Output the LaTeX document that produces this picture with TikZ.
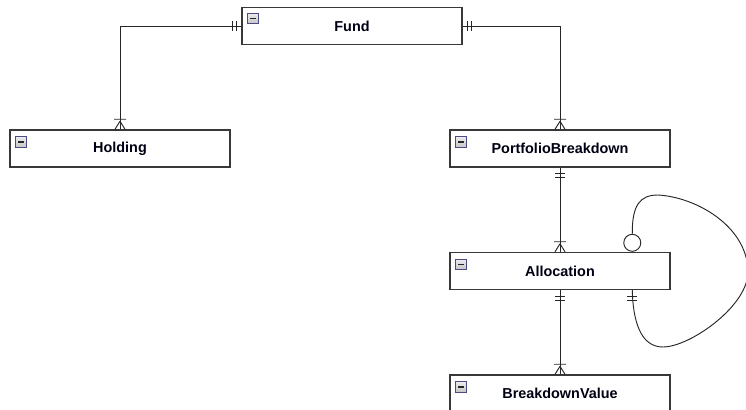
\documentclass[tikz,border=0pt]{standalone}
\usepackage{fontspec}
\setmainfont{Liberation Sans}
\usetikzlibrary{calc}
\begin{document}
\begin{tikzpicture}[x=0.75pt,y=-0.75pt,
  entity/.style={draw=black!78, line width=1.1pt, fill=white, minimum width=165pt,
    minimum height=27.75pt, inner sep=0pt, font=\fontsize{10.8}{13}\selectfont\bfseries, text=black!92!blue},
  conn/.style={draw=black!85, line width=0.7pt},
  icon/.style={draw=black!45!blue!40!gray, line width=0.6pt, top color=gray!15, bottom color=gray!45,
    minimum size=7.8pt, inner sep=0pt, anchor=north west,
    path picture={\draw[line width=1pt, black!85] ([xshift=1.9pt]path picture bounding box.west) -- ([xshift=-1.9pt]path picture bounding box.east);}},
  pics/crowfoot/.style={code={\draw[conn] (0,-8) -- (-5,0) (0,-8) -- (5,0) (-6,-10) -- (6,-10);}},
  pics/barsdown/.style={code={\draw[conn] (-5,6) -- (5,6) (-5,10) -- (5,10);}},
  pics/barsleft/.style={code={\draw[conn] (-5,-5) -- (-5,5) (-9,-5) -- (-9,5);}},
  pics/barsright/.style={code={\draw[conn] (4.5,-5) -- (4.5,5) (8.5,-5) -- (8.5,5);}}
]
\useasboundingbox (0,0) rectangle (746,410);

% entities
\node[entity] (fund) at (352,26) {Fund};
\node[entity] (holding) at (120,148.5) {Holding};
\node[entity] (pb) at (560,148.5) {PortfolioBreakdown};
\node[entity] (alloc) at (560,271) {Allocation};
\node[entity] (bv) at (560,393.5) {BreakdownValue};

% collapse icons
\node[icon] (fundicon) at ($(fund.north west)+(6,6)$) {};
\node[icon] (holdingicon) at ($(holding.north west)+(6,7)$) {};
\node[icon] (pbicon) at ($(pb.north west)+(6,7)$) {};
\node[icon] (allocicon) at ($(alloc.north west)+(6,7)$) {};
\node[icon] (bvicon) at ($(bv.north west)+(6,7)$) {};

% connectors
\draw[conn] (fund.west) -| (holding.north);
\draw[conn] (fund.east) -| (pb.north);
\draw[conn] (pb.south) -- (alloc.north);
\draw[conn] (alloc.south) -- (bv.north);

\pic at (fund.west) {barsleft};
\pic at (fund.east) {barsright};
\pic at (holding.north) {crowfoot};
\pic at (pb.north) {crowfoot};
\pic at (pb.south) {barsdown};
\pic at (alloc.north) {crowfoot};
\pic at (alloc.south) {barsdown};
\pic at (bv.north) {crowfoot};

% self relation
\coordinate (la) at ($(alloc.north west)+(183,0)$);
\coordinate (lb) at ($(alloc.south west)+(183,0)$);
\node[circle, draw=black!85, line width=0.7pt, fill=white, minimum size=12.75pt, inner sep=0pt, anchor=south] (opt) at (la) {};
\draw[conn] (opt.north) .. controls (632,205) and (640,195) .. (658,195)
  .. controls (695,197) and (746,225) .. (748,270)
  .. controls (750,305) and (690,347) .. (663,347)
  .. controls (640,347) and (633,320) .. (lb);
\pic at (lb) {barsdown};
\end{tikzpicture}
\end{document}
